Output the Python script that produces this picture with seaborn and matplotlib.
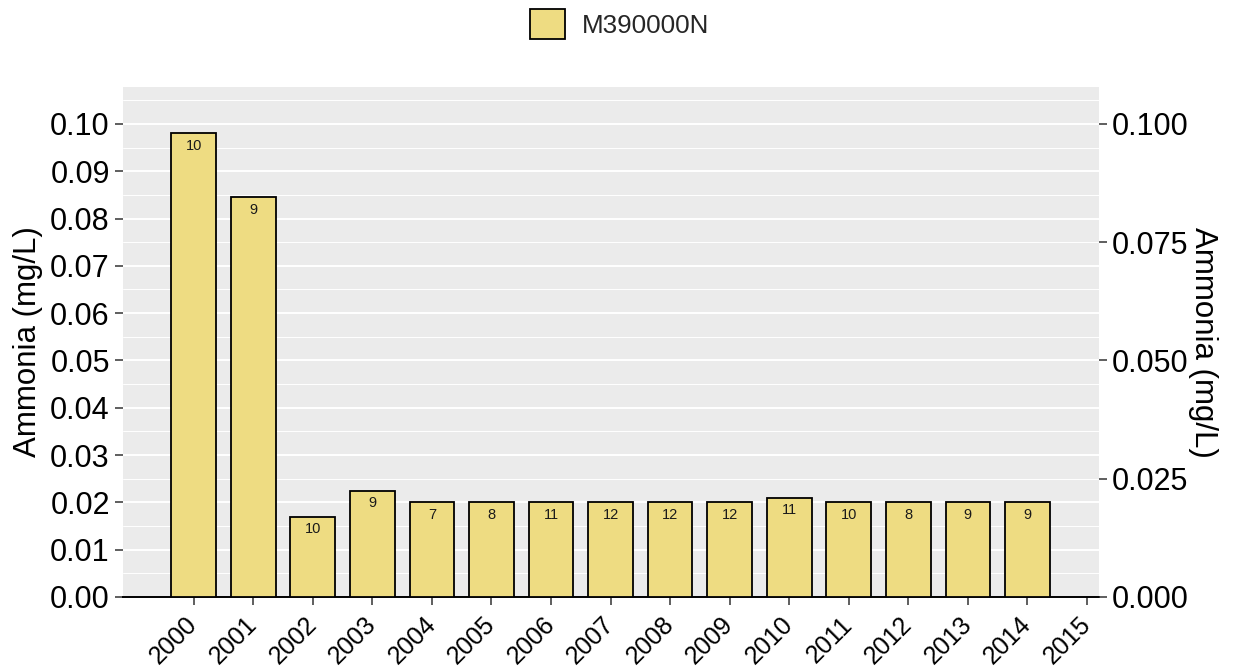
import matplotlib
matplotlib.use("Agg")
import matplotlib.pyplot as plt
from matplotlib.patches import Patch
from matplotlib.ticker import MultipleLocator
from matplotlib.transforms import ScaledTranslation
import numpy as np
import pandas as pd
import seaborn as sns

years = [2000, 2001, 2002, 2003, 2004, 2005, 2006, 2007, 2008, 2009,
         2010, 2011, 2012, 2013, 2014]
ammonia = [0.098, 0.0845, 0.017, 0.0225, 0.020, 0.020, 0.020, 0.020, 0.020,
           0.020, 0.021, 0.020, 0.020, 0.020, 0.020]
counts = [10, 9, 10, 9, 7, 8, 11, 12, 12, 12, 11, 10, 8, 9, 9]
station = "M390000N"
x_ticks = list(range(2000, 2016))
left_ticks = [0.00, 0.01, 0.02, 0.03, 0.04, 0.05, 0.06, 0.07, 0.08, 0.09, 0.10]
right_ticks = [0.000, 0.025, 0.050, 0.075, 0.100]
y_label = "Ammonia (mg/L)"

df = pd.DataFrame({"year": years, "ammonia": ammonia, "n": counts})

sns.set_theme(style="white")
plt.rcParams["font.family"] = ["Liberation Sans", "DejaVu Sans"]

fill = "#EEDC82"
panel = "#EBEBEB"
tick_fs = 22
xtick_fs = 18
title_fs = 22.5

fig = plt.figure(figsize=(12.33, 6.71), dpi=100)
ax = fig.add_axes([0.0998, 0.1103, 0.7915, 0.7600])
ax.set_facecolor(panel)

sns.barplot(data=df, x="year", y="ammonia", native_scale=True, width=0.75,
            color=fill, saturation=1, edgecolor="black", linewidth=1.3,
            ax=ax, zorder=3)

for yr, v, n in zip(years, ammonia, counts):
    ax.annotate(str(n), (yr, v), xytext=(0, -4), textcoords="offset points",
                ha="center", va="top", fontsize=10.5, color="#1a1a1a", zorder=4)

ymax = max(ammonia) * 1.1
ax.set_ylim(0, ymax)
ax.set_xlim(1998.815, 2015.2)

ax.set_yticks(left_ticks)
ax.set_yticklabels([f"{t:.2f}" for t in left_ticks])
ax.yaxis.set_minor_locator(MultipleLocator(0.005))
ax.set_xticks(x_ticks)
ax.set_xticklabels([str(t) for t in x_ticks], rotation=45, ha="right",
                   va="center", rotation_mode="anchor", fontsize=xtick_fs)
shift = ScaledTranslation(5 / 72, 0, fig.dpi_scale_trans)
for lbl in ax.get_xticklabels():
    lbl.set_transform(lbl.get_transform() + shift)

ax.grid(which="major", axis="y", color="white", linewidth=1.4, zorder=0)
ax.grid(which="minor", axis="y", color="white", linewidth=0.7, zorder=0)
ax.grid(which="major", axis="x", visible=False)
ax.set_axisbelow(True)

for s in ["top", "left", "right"]:
    ax.spines[s].set_visible(False)
ax.spines["bottom"].set_color("black")
ax.spines["bottom"].set_linewidth(1.4)

ax.tick_params(axis="y", which="major", labelsize=tick_fs, colors="#333333",
               labelcolor="black", length=6, width=1.1, left=True)
ax.tick_params(axis="x", which="major", colors="#333333", labelcolor="black",
               length=6, width=1.1, bottom=True, pad=11)
ax.tick_params(axis="y", which="minor", length=0)
ax.set_xlabel("")
ax.set_ylabel(y_label, fontsize=title_fs, color="black", labelpad=5)

ax2 = ax.twinx()
ax2.set_ylim(0, ymax)
ax2.set_yticks(right_ticks)
ax2.set_yticklabels([f"{t:.3f}" for t in right_ticks])
for s in ["top", "left", "right", "bottom"]:
    ax2.spines[s].set_visible(False)
ax2.tick_params(axis="y", labelsize=tick_fs, colors="#333333", labelcolor="black",
                length=6, width=1.1, right=True)
ax2.set_ylabel(y_label, fontsize=title_fs, color="black", rotation=-90,
               labelpad=21)
ax2.grid(False)

handle = Patch(facecolor=fill, edgecolor="black", linewidth=1.3, label=station)
fig.legend(handles=[handle], loc="center", bbox_to_anchor=(0.5024, 0.964),
           frameon=False, fontsize=18.7, handlelength=1.35, handleheight=1.4,
           handletextpad=0.65, borderpad=0, borderaxespad=0)

fig.savefig("out.png", dpi=100)
